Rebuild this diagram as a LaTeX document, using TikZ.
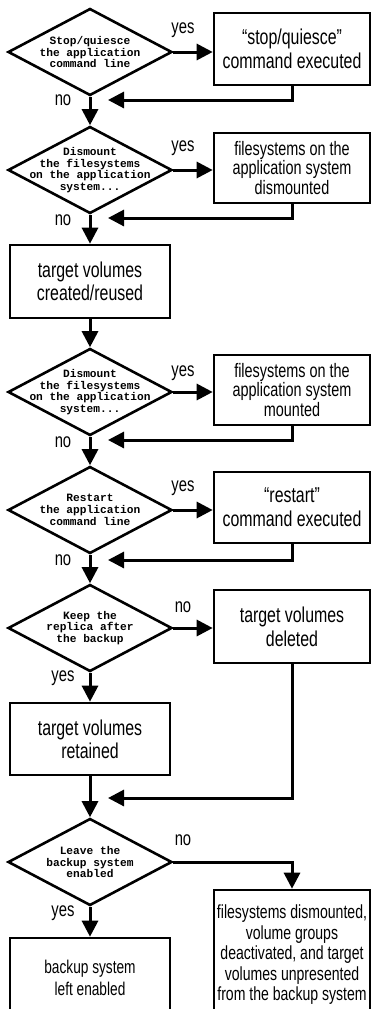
\documentclass[tikz,border=0pt]{standalone}
\usepackage{fontspec}
\newfontfamily\nsf{Liberation Sans}[FakeStretch=0.74]
\newfontfamily\dmono{Liberation Mono}
\usetikzlibrary{shapes.geometric,arrows.meta}
\begin{document}
\begin{tikzpicture}[x=1pt,y=-1pt,
  flow/.style={line width=3pt,-{Triangle[length=16pt,width=16pt]}},
  dec/.style={diamond,draw,line width=2.6pt,minimum width=164pt,minimum height=87pt,inner sep=0pt},
  dtxt/.style={font=\dmono\bfseries\fontsize{11.2}{11.7}\selectfont,align=center,inner sep=0pt},
  boxa/.style={draw,line width=2.6pt,align=center,inner sep=0pt,font=\nsf\fontsize{21.5}{24}\selectfont},
  boxb/.style={draw,line width=2.6pt,align=center,inner sep=0pt,font=\nsf\fontsize{19.5}{19.5}\selectfont},
  rbox/.style={minimum width=156pt},
  lbox/.style={minimum width=160pt},
  lbl/.style={font=\nsf\fontsize{20}{22}\selectfont,inner sep=0pt}
]
\useasboundingbox (0,0) rectangle (372,1009);
\clip (0,0) rectangle (372,1009);

% decisions
\node[dec] (d1) at (90,52) {};
\node[dtxt] (d1t) at (d1) {Stop/quiesce\\the application\\command line};
\node[dec] (d2) at (90,170) {};
\node[dtxt] (d2t) at (d2) {Dismount\\the filesystems\\on the application\\system...};
\node[dec] (d3) at (90,392) {};
\node[dtxt] (d3t) at (d3) {Dismount\\the filesystems\\on the application\\system...};
\node[dec] (d4) at (90,510) {};
\node[dtxt] (d4t) at (d4) {Restart\\the application\\command line};
\node[dec] (d5) at (90,628) {};
\node[dtxt] (d5t) at (d5) {Keep the\\replica after\\the backup};
\node[dec] (d6) at (90,862) {};
\node[dtxt] (d6t) at (d6) {Leave the\\backup system\\enabled};

% boxes
\node[boxa,rbox,minimum height=72pt] (b1) at (292,49) {“stop/quiesce”\\command executed};
\node[boxb,rbox,minimum height=70pt] (b2) at (292,168) {filesystems on the\\application system\\dismounted};
\node[boxa,lbox,minimum height=73pt,font=\nsf\fontsize{21.5}{23}\selectfont] (b3) at (90,281.5) {target volumes\\created/reused};
\node[boxb,rbox,minimum height=70pt] (b4) at (292,390) {filesystems on the\\application system\\mounted};
\node[boxa,rbox,minimum height=71pt] (b5) at (292,507.5) {“restart”\\command executed};
\node[boxa,rbox,minimum height=73pt] (b6) at (292,626.5) {target volumes\\deleted};
\node[boxa,lbox,minimum height=72pt,font=\nsf\fontsize{21.5}{23}\selectfont] (b7) at (90,739) {target volumes\\retained};
\node[boxb,lbox,minimum height=80pt,font=\nsf\fontsize{18.5}{22}\selectfont] (b8) at (90,978) {backup system\\left enabled};
\node[boxb,rbox,minimum height=130pt,font=\nsf\fontsize{19}{20.5}\selectfont] (b9) at (292,955) {filesystems dismounted,\\volume groups\\deactivated, and target\\volumes unpresented\\from the backup system};

% return points
\coordinate (r1) at (108,100);
\coordinate (r2) at (108,218);
\coordinate (r3) at (108,440);
\coordinate (r4) at (108,560);
\coordinate (r5) at (108,798);

% main flow
\draw[flow] (d1.south) -- (d2.north);
\draw[flow] (d2.south) -- (b3.north);
\draw[flow] (b3.south) -- (d3.north);
\draw[flow] (d3.south) -- (d4.north);
\draw[flow] (d4.south) -- (d5.north);
\draw[flow] (d5.south) -- (b7.north);
\draw[flow] (b7.south) -- (d6.north);
\draw[flow] (d6.south) -- (b8.north);

% side branches
\draw[flow] (d1.east) -- (d1.east -| b1.west);
\draw[flow] (d2.east) -- (d2.east -| b2.west);
\draw[flow] (d3.east) -- (d3.east -| b4.west);
\draw[flow] (d4.east) -- (d4.east -| b5.west);
\draw[flow] (d5.east) -- (d5.east -| b6.west);
\draw[flow] (d6.east) -| (b9.north);

% returns
\draw[flow] (b1.south) |- (r1);
\draw[flow] (b2.south) |- (r2);
\draw[flow] (b4.south) |- (r3);
\draw[flow] (b5.south) |- (r4);
\draw[flow] (b6.south) |- (r5);

% labels
\node[lbl] (y1) at (183,30) {yes};
\node[lbl] (y2) at (183,148) {yes};
\node[lbl] (y3) at (183,373) {yes};
\node[lbl] (y4) at (183,488) {yes};
\node[lbl] (n5) at (183,607) {no};
\node[lbl] (n6) at (183,840) {no};
\node[lbl] (n1) at (63,100) {no};
\node[lbl] (n2) at (63,220) {no};
\node[lbl] (n3) at (63,442) {no};
\node[lbl] (n4) at (63,560) {no};
\node[lbl] (y5) at (63,678) {yes};
\node[lbl] (y6) at (63,913) {yes};
\end{tikzpicture}
\end{document}
